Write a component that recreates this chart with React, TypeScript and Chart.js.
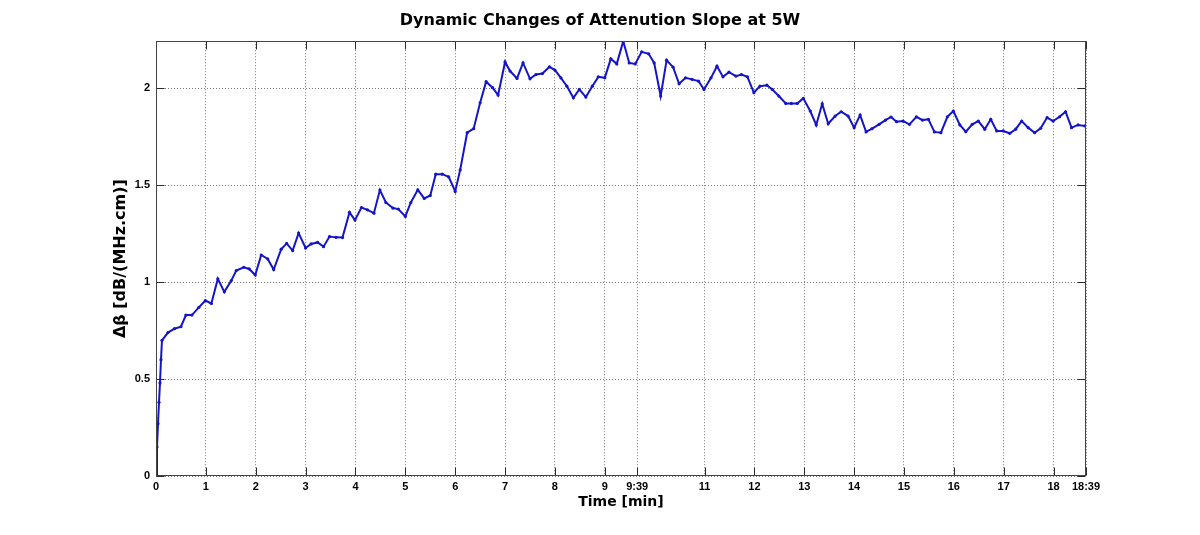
import React, { useEffect, useRef } from 'react';
import { Chart, registerables } from 'chart.js';

Chart.register(...registerables);

const TITLE = 'Dynamic Changes of Attenution Slope at 5W';
const X_TITLE = 'Time [min]';
const Y_TITLE = 'Δβ [dB/(MHz.cm)]';

const TIME_MIN = [
  0, 0.02, 0.04, 0.06, 0.08, 0.10, 0.12, 0.24, 0.37, 0.50, 0.60, 0.72, 0.86, 0.99,
  1.11, 1.24, 1.37, 1.51, 1.61, 1.76, 1.87, 1.99, 2.11, 2.24, 2.36, 2.51, 2.62, 2.74,
  2.86, 3.00, 3.11, 3.24, 3.36, 3.48, 3.61, 3.74, 3.88, 3.99, 4.12, 4.24, 4.37, 4.49,
  4.61, 4.75, 4.86, 5.00, 5.11, 5.25, 5.38, 5.50, 5.61, 5.74, 5.87, 6.00, 6.10, 6.24,
  6.37, 6.50, 6.62, 6.75, 6.86, 7.00, 7.10, 7.24, 7.36, 7.50, 7.62, 7.75, 7.89, 8.00,
  8.12, 8.24, 8.37, 8.49, 8.62, 8.75, 8.87, 9.00, 9.12, 9.24, 9.37, 9.49, 9.61, 9.74,
  9.88, 9.99, 10.12, 10.24, 10.37, 10.49, 10.62, 10.75, 10.88, 10.99, 11.13, 11.25,
  11.37, 11.49, 11.63, 11.74, 11.86, 11.99, 12.11, 12.25, 12.36, 12.49, 12.63, 12.74,
  12.86, 12.98, 13.12, 13.24, 13.36, 13.48, 13.62, 13.74, 13.88, 14.00, 14.12, 14.24,
  14.36, 14.50, 14.63, 14.74, 14.85, 14.98, 15.11, 15.25, 15.37, 15.49, 15.61, 15.74,
  15.87, 15.99, 16.12, 16.24, 16.37, 16.49, 16.62, 16.74, 16.86, 16.99, 17.12, 17.24,
  17.36, 17.49, 17.62, 17.74, 17.87, 17.99, 18.12, 18.24, 18.36, 18.49, 18.63,
];

const DELTA_BETA = [
  0, 0.15, 0.27, 0.38, 0.48, 0.60, 0.70, 0.74, 0.76, 0.77, 0.83, 0.83, 0.87, 0.905,
  0.89, 1.017, 0.95, 1.008, 1.06, 1.077, 1.068, 1.037, 1.14, 1.12, 1.065, 1.17, 1.20, 1.163,
  1.253, 1.176, 1.197, 1.205, 1.183, 1.235, 1.231, 1.23, 1.36, 1.32, 1.385, 1.373, 1.356, 1.475,
  1.411, 1.382, 1.377, 1.339, 1.411, 1.476, 1.432, 1.447, 1.557, 1.557, 1.543, 1.468, 1.579, 1.771,
  1.792, 1.925, 2.034, 2.003, 1.965, 2.136, 2.089, 2.051, 2.131, 2.049, 2.071, 2.076, 2.111, 2.094,
  2.054, 2.011, 1.951, 1.994, 1.955, 2.011, 2.059, 2.054, 2.152, 2.126, 2.243, 2.131, 2.126, 2.188,
  2.178, 2.131, 1.960, 2.145, 2.109, 2.023, 2.054, 2.046, 2.037, 1.994, 2.054, 2.114,
  2.059, 2.083, 2.063, 2.071, 2.059, 1.977, 2.011, 2.016, 1.994, 1.960, 1.922, 1.922,
  1.922, 1.948, 1.883, 1.811, 1.920, 1.817, 1.857, 1.879, 1.857, 1.797, 1.862, 1.775,
  1.792, 1.814, 1.836, 1.852, 1.828, 1.831, 1.814, 1.853, 1.836, 1.840, 1.775, 1.771,
  1.853, 1.883, 1.811, 1.776, 1.814, 1.831, 1.789, 1.840, 1.780, 1.780, 1.768, 1.789,
  1.831, 1.797, 1.771, 1.794, 1.849, 1.831, 1.853, 1.879, 1.797, 1.811, 1.806,
];

const X_TICKS = [0, 1, 2, 3, 4, 5, 6, 7, 8, 9, 9.65, 11, 12, 13, 14, 15, 16, 17, 18, 18.65];
const X_TICK_LABELS = ['0', '1', '2', '3', '4', '5', '6', '7', '8', '9', '9:39', '11', '12', '13', '14', '15', '16', '17', '18', '18:39'];
const Y_TICKS = [0, 0.5, 1, 1.5, 2];
const Y_TICK_LABELS = ['0', '0.5', '1', '1.5', '2'];

const X_MIN = 0;
const X_MAX = 18.65;
const Y_MIN = 0;
const Y_MAX = 2.243;

const LINE_COLOR = '#1414c8';
const TICK_FONT = { family: "'Liberation Sans', Arial, sans-serif", weight: 'bold' as const, size: 11 };
const X_LABEL_FONT = { family: "'DejaVu Sans', sans-serif", weight: 'bold' as const, size: 14 };
const Y_LABEL_FONT = { family: "'DejaVu Sans', sans-serif", weight: 'bold' as const, size: 16 };

const boxPlugin = {
  id: 'matlabBox',
  afterDatasetsDraw(chart: any) {
    const { ctx, chartArea: a, scales } = chart;
    const L = Math.round(a.left) + 0.5;
    const R = Math.round(a.right) - 0.5;
    const T = Math.round(a.top) + 0.5;
    const B = Math.round(a.bottom) - 0.5;
    const len = 8;
    ctx.save();
    ctx.strokeStyle = '#2a2a2a';
    ctx.lineWidth = 1;
    ctx.beginPath();
    X_TICKS.forEach((v) => {
      const x = Math.round(scales.x.getPixelForValue(v)) + 0.5;
      ctx.moveTo(x, B);
      ctx.lineTo(x, B - len);
      ctx.moveTo(x, T);
      ctx.lineTo(x, T + len);
    });
    Y_TICKS.forEach((v) => {
      const y = Math.round(scales.y.getPixelForValue(v)) + 0.5;
      ctx.moveTo(L, y);
      ctx.lineTo(L + len, y);
      ctx.moveTo(R, y);
      ctx.lineTo(R - len, y);
    });
    ctx.stroke();
    ctx.strokeStyle = '#444';
    ctx.strokeRect(L, T, R - L, B - T);
    ctx.restore();
  },
};

export default function App() {
  const canvasRef = useRef<HTMLCanvasElement | null>(null);

  useEffect(() => {
    const canvas = canvasRef.current;
    if (!canvas) return;
    const data = TIME_MIN.map((t, i) => ({ x: t, y: DELTA_BETA[i] }));
    const chart = new Chart(canvas, {
      type: 'line',
      data: {
        datasets: [
          {
            data,
            yAxisID: 'y',
            borderColor: LINE_COLOR,
            backgroundColor: LINE_COLOR,
            borderWidth: 2,
            pointRadius: 1.6,
            pointBorderWidth: 0,
            pointBackgroundColor: LINE_COLOR,
            tension: 0,
            fill: false,
          },
        ],
      },
      options: {
        responsive: false,
        animation: false,
        devicePixelRatio: 1,
        parsing: false,
        layout: { padding: { top: 0, right: 0, bottom: 0, left: 0 } },
        plugins: {
          legend: { display: false },
          tooltip: { enabled: false },
          title: {
            display: true,
            text: TITLE,
            color: '#000',
            font: { family: "'DejaVu Sans', sans-serif", weight: 'bold', size: 16 },
            padding: { top: 11, bottom: 11 },
          },
        },
        scales: {
          x: {
            type: 'linear',
            min: X_MIN,
            max: X_MAX,
            afterBuildTicks: (s: any) => {
              s.ticks = X_TICKS.map((v) => ({ value: v }));
            },
            afterFit: (s: any) => {
              s.height = 59;
            },
            ticks: {
              autoSkip: false,
              maxRotation: 0,
              padding: 4,
              color: '#000',
              font: TICK_FONT,
              callback: (_v: any, i: number) => X_TICK_LABELS[i],
            },
            grid: { color: '#7a7a7a', lineWidth: 1, drawTicks: false },
            border: { display: false, dash: [1, 2] },
            title: {
              display: true,
              text: X_TITLE,
              color: '#000',
              font: X_LABEL_FONT,
              padding: { top: 0, bottom: 24 },
            },
          },
          y: {
            type: 'linear',
            position: 'left',
            min: Y_MIN,
            max: Y_MAX,
            afterBuildTicks: (s: any) => {
              s.ticks = Y_TICKS.map((v) => ({ value: v }));
            },
            afterFit: (s: any) => {
              s.width = 156;
            },
            ticks: {
              padding: 6,
              color: '#000',
              font: TICK_FONT,
              callback: (_v: any, i: number) => Y_TICK_LABELS[i],
            },
            grid: { color: '#7a7a7a', lineWidth: 1, drawTicks: false },
            border: { display: false, dash: [1, 2] },
            title: {
              display: true,
              text: Y_TITLE,
              color: '#000',
              font: Y_LABEL_FONT,
              padding: { top: 111, bottom: 0 },
            },
          },
          yRight: {
            type: 'linear',
            position: 'right',
            min: Y_MIN,
            max: Y_MAX,
            afterFit: (s: any) => {
              s.width = 114;
            },
            ticks: { display: false },
            grid: { display: false, drawOnChartArea: false, drawTicks: false },
            border: { display: false },
            title: { display: false },
          },
        },
      },
      plugins: [boxPlugin],
    });
    return () => chart.destroy();
  }, []);

  return (
    <div style={{ position: 'absolute', left: 0, top: 0, width: 1200, height: 535, background: '#fff' }}>
      <canvas ref={canvasRef} width={1200} height={535} style={{ display: 'block' }} />
    </div>
  );
}
